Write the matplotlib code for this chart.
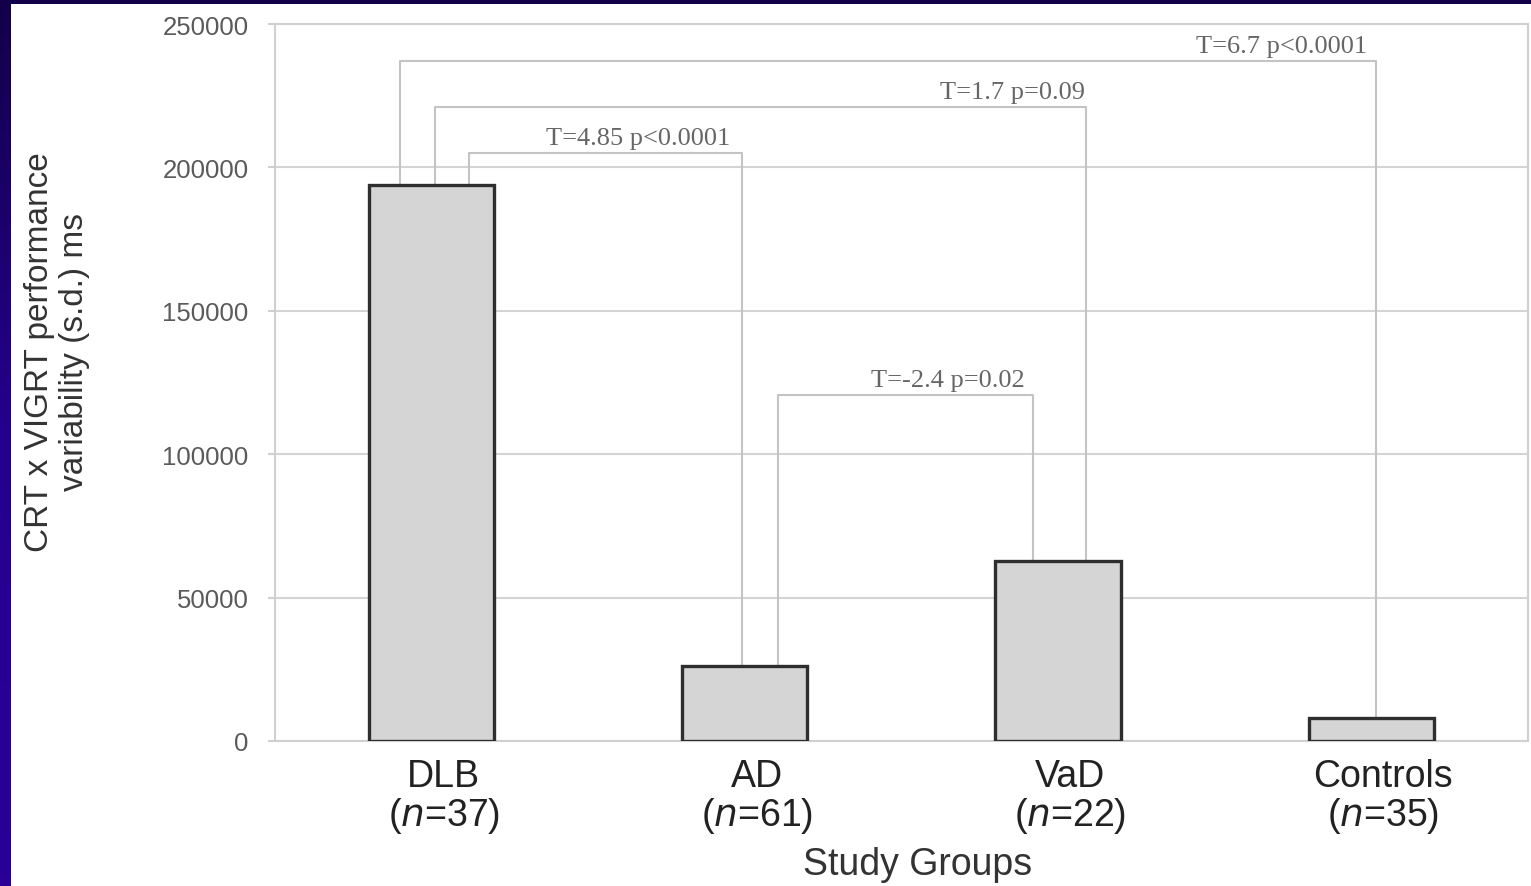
import numpy as np
import matplotlib
matplotlib.use('Agg')
import matplotlib.pyplot as plt
import matplotlib.transforms as mtransforms
from matplotlib.patches import Rectangle

# data
groups = ['DLB', 'AD', 'VaD', 'Controls']
n_sizes = [37, 61, 22, 35]
variability = [194000, 26000, 62800, 8000]

# comparisons: (left group, right group, bracket height, label)
pairs_left = [0, 0, 0, 1]
pairs_right = [1, 2, 3, 2]
bracket_y = [205000, 221000, 237000, 120500]
bracket_txt = ['T=4.85 p<0.0001', 'T=1.7 p=0.09', 'T=6.7 p<0.0001', 'T=-2.4 p=0.02']
# where each leg sits relative to the bar centre
left_off = [0.12, 0.01, -0.10, 0.105]
right_off = [-0.01, 0.09, 0.015, -0.08]
# label centres (the labels are not centred on the brackets)
txt_x = [0.66, 1.853, 2.715, 1.649]

fig = plt.figure(figsize=(15.31, 8.87), dpi=100)
fig.patch.set_facecolor('white')

# dark frame strips from the slide
fig.patches.append(Rectangle((0, 0.994), 1, 0.006, transform=fig.transFigure,
                             facecolor='#13004a', edgecolor='none', zorder=0))
grad = np.linspace(0, 1, 100).reshape(-1, 1)
ax_strip = fig.add_axes([0, 0, 0.0068, 1])
ax_strip.imshow(grad, aspect='auto', cmap=matplotlib.colors.LinearSegmentedColormap.from_list(
    'f', ['#13004a', '#24008f', '#2a0098']), extent=[0, 1, 0, 1], origin='upper')
ax_strip.axis('off')

ax = fig.add_axes([0.1796, 0.1635, 0.8184, 0.8083])
x = np.arange(len(groups))
ax.bar(x, variability, width=0.4, color='#d5d5d5', edgecolor='#2e2e2e', linewidth=2.4, zorder=3)

ax.set_xlim(-0.5, 3.5)
ax.set_ylim(0, 250000)
ax.set_yticks(np.arange(0, 250001, 50000))
ax.yaxis.grid(True, color='#d4d4d4', linewidth=1.5, zorder=0)
ax.set_axisbelow(True)
for s in ax.spines.values():
    s.set_color('#d0d0d0')
    s.set_linewidth(1.5)
ax.tick_params(axis='y', colors='#d0d0d0', length=5, width=1.5, labelcolor='#5a5a5a',
               labelsize=18.5, pad=14)
ax.tick_params(axis='x', length=0, labelsize=27, labelcolor='#222222', pad=12)
ax.set_xticks(x)
ax.set_xticklabels([g + '\n($\\it{n}$=' + str(n) + ')' for g, n in zip(groups, n_sizes)],
                   linespacing=1.05)
shift = mtransforms.ScaledTranslation(12 / 100, 0, fig.dpi_scale_trans)
for lab in ax.get_yticklabels():
    lab.set_family('Liberation Sans')
for lab in ax.get_xticklabels():
    lab.set_family('Liberation Sans')
    lab.set_transform(lab.get_transform() + shift)

# comparison brackets
for i in range(len(bracket_txt)):
    a, b = pairs_left[i], pairs_right[i]
    xa = a + left_off[i]
    xb = b + right_off[i]
    ya = variability[a]
    yb = variability[b]
    ax.plot([xa, xa, xb, xb], [ya, bracket_y[i], bracket_y[i], yb],
            color='#c4c4c4', linewidth=1.5, zorder=2)
    ax.text(txt_x[i], bracket_y[i] + 1500, bracket_txt[i], ha='center', va='bottom',
            family='Liberation Serif', fontsize=19, color='#666666', zorder=4)

fig.text(0.0372, 0.603, 'CRT x VIGRT performance\nvariability (s.d.) ms', rotation=90,
         ha='center', va='center', family='Liberation Sans', fontsize=24, color='#333333',
         linespacing=1.2)
fig.text(0.5996, 0.0248, 'Study Groups', ha='center', va='center', family='Liberation Sans',
         fontsize=27, color='#333333')

fig.savefig('out.png', dpi=100)
